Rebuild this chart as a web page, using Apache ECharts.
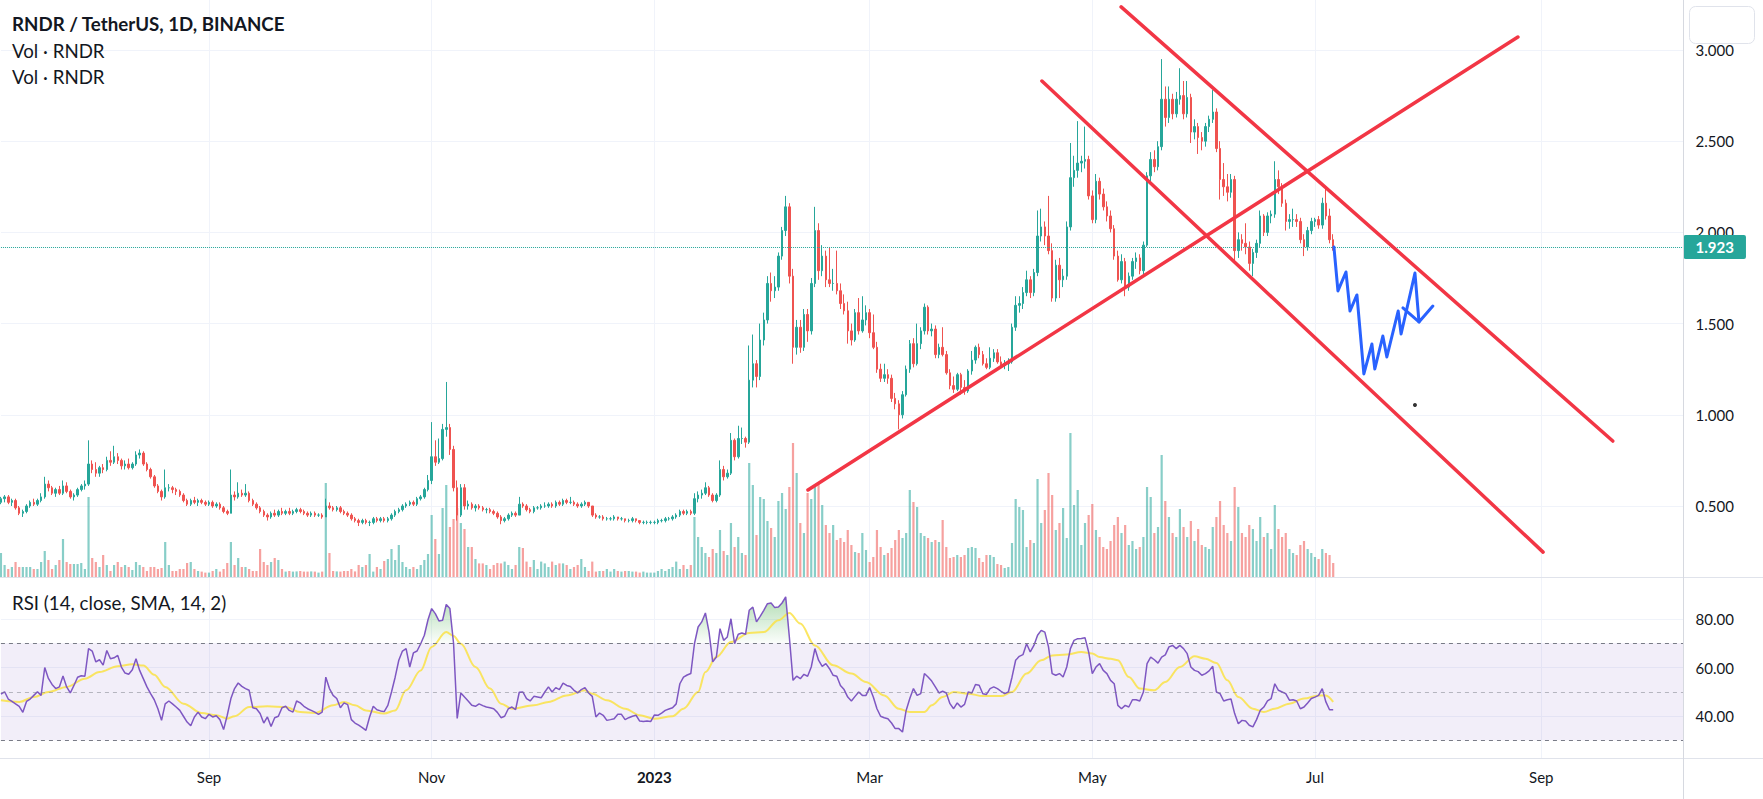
<!DOCTYPE html>
<html><head><meta charset="utf-8">
<script src="https://cdn.jsdelivr.net/npm/echarts@6/dist/echarts.min.js"></script>
<style>html,body{margin:0;padding:0;background:#fff}#c{width:1763px;height:799px}</style>
</head><body><div id="c"></div>
<script>
// ---------------- DATA ----------------
const startDate = '2022-07-06';          // first daily candle
const axisDays = 462;                     // days spanned by the time axis (to Oct 2023)
const lastPrice = 1.923;
const priceTickStep = 0.5;
const rsiTickStep = 20;

// daily candles [open, high, low, close], 2022-07-06 .. 2023-07-06
const candles = [
[0.52,0.55,0.51,0.54],[0.54,0.56,0.52,0.55],[0.55,0.56,0.51,0.52],[0.52,0.54,0.50,0.53],[0.53,0.54,0.48,0.49],
[0.49,0.50,0.45,0.46],[0.46,0.48,0.44,0.47],[0.47,0.51,0.46,0.50],[0.50,0.53,0.49,0.52],[0.52,0.54,0.50,0.51],
[0.51,0.54,0.50,0.53],[0.53,0.57,0.52,0.55],[0.55,0.66,0.54,0.62],[0.62,0.64,0.58,0.60],[0.60,0.61,0.56,0.57],
[0.57,0.60,0.55,0.59],[0.59,0.61,0.56,0.57],[0.57,0.64,0.56,0.61],[0.61,0.63,0.57,0.58],[0.58,0.59,0.54,0.55],
[0.55,0.57,0.53,0.56],[0.56,0.60,0.55,0.59],[0.59,0.62,0.58,0.61],[0.61,0.64,0.59,0.62],[0.62,0.86,0.61,0.73],
[0.73,0.75,0.68,0.70],
[0.70,0.74,0.66,0.68],[0.68,0.72,0.66,0.71],[0.71,0.73,0.68,0.70],[0.70,0.77,0.69,0.75],
[0.75,0.80,0.72,0.74],[0.74,0.83,0.73,0.77],[0.77,0.79,0.73,0.75],[0.75,0.76,0.70,0.72],[0.72,0.75,0.70,0.73],
[0.73,0.76,0.70,0.71],[0.71,0.74,0.70,0.73],[0.73,0.80,0.72,0.78],[0.78,0.81,0.76,0.79],[0.79,0.80,0.72,0.73],
[0.73,0.74,0.69,0.70],[0.70,0.71,0.65,0.66],[0.66,0.67,0.60,0.61],[0.61,0.62,0.57,0.58],[0.58,0.59,0.53,0.55],
[0.55,0.70,0.54,0.60],[0.60,0.62,0.58,0.60],[0.60,0.61,0.57,0.59],[0.59,0.60,0.56,0.58],[0.58,0.59,0.55,0.56],
[0.56,0.57,0.52,0.53],[0.53,0.54,0.50,0.51],[0.51,0.54,0.50,0.53],[0.53,0.55,0.51,0.52],[0.52,0.54,0.50,0.53],
[0.53,0.54,0.51,0.52],[0.52,0.53,0.50,0.51],
[0.51,0.53,0.50,0.52],[0.52,0.53,0.49,0.50],[0.50,0.52,0.49,0.51],[0.51,0.52,0.48,0.49],[0.49,0.50,0.46,0.47],
[0.47,0.48,0.45,0.46],[0.46,0.70,0.46,0.56],[0.56,0.58,0.53,0.55],[0.55,0.63,0.54,0.57],[0.57,0.59,0.55,0.56],
[0.56,0.62,0.55,0.57],[0.57,0.58,0.52,0.53],[0.53,0.54,0.50,0.51],[0.51,0.52,0.48,0.49],[0.49,0.50,0.46,0.47],
[0.47,0.48,0.44,0.45],[0.45,0.46,0.42,0.44],[0.44,0.47,0.43,0.46],[0.46,0.48,0.44,0.45],[0.45,0.48,0.44,0.47],
[0.47,0.49,0.45,0.46],[0.46,0.48,0.45,0.47],[0.47,0.49,0.45,0.46],[0.46,0.48,0.45,0.47],[0.47,0.49,0.46,0.48],
[0.48,0.49,0.46,0.47],[0.47,0.48,0.45,0.46],[0.46,0.47,0.44,0.45],[0.45,0.47,0.44,0.46],[0.46,0.47,0.44,0.45],
[0.45,0.46,0.44,0.45],[0.45,0.46,0.43,0.44],[0.44,0.54,0.44,0.50],[0.50,0.52,0.48,0.49],[0.49,0.50,0.47,0.48],
[0.48,0.50,0.47,0.49],[0.49,0.50,0.46,0.47],[0.47,0.48,0.45,0.46],[0.46,0.47,0.44,0.45],[0.45,0.46,0.42,0.43],
[0.43,0.44,0.41,0.42],[0.42,0.43,0.39,0.41],[0.41,0.43,0.40,0.42],[0.42,0.43,0.40,0.41],[0.41,0.42,0.39,0.41],
[0.41,0.44,0.40,0.43],[0.43,0.44,0.41,0.42],[0.42,0.44,0.41,0.43],[0.43,0.44,0.41,0.42],[0.42,0.44,0.41,0.43],
[0.43,0.46,0.42,0.45],[0.45,0.48,0.44,0.47],[0.47,0.49,0.46,0.48],[0.48,0.51,0.47,0.50],[0.50,0.52,0.49,0.51],
[0.51,0.53,0.50,0.52],[0.52,0.53,0.50,0.51],[0.51,0.55,0.50,0.54],[0.54,0.56,0.53,0.55],[0.55,0.60,0.54,0.59],
[0.59,0.67,0.58,0.64],
[0.64,0.96,0.62,0.77],[0.77,0.86,0.72,0.74],[0.74,0.87,0.73,0.76],[0.76,0.95,0.75,0.92],[0.92,1.18,0.88,0.93],
[0.93,0.95,0.78,0.81],[0.81,0.83,0.58,0.60],[0.60,0.64,0.42,0.45],[0.45,0.62,0.44,0.60],[0.60,0.62,0.48,0.50],
[0.50,0.53,0.48,0.51],[0.51,0.52,0.48,0.49],[0.49,0.51,0.47,0.50],[0.50,0.51,0.48,0.49],[0.49,0.50,0.47,0.48],
[0.48,0.49,0.46,0.48],[0.48,0.49,0.46,0.47],[0.47,0.48,0.45,0.46],[0.46,0.47,0.43,0.44],[0.44,0.45,0.40,0.42],
[0.42,0.44,0.41,0.43],[0.43,0.46,0.42,0.45],[0.45,0.47,0.44,0.46],[0.46,0.47,0.44,0.45],[0.45,0.55,0.45,0.51],
[0.51,0.52,0.49,0.50],[0.50,0.51,0.47,0.48],[0.48,0.49,0.46,0.47],[0.47,0.50,0.46,0.49],[0.49,0.50,0.48,0.49],
[0.49,0.51,0.48,0.50],[0.50,0.52,0.49,0.50],[0.50,0.52,0.49,0.51],[0.51,0.52,0.49,0.50],[0.50,0.53,0.49,0.52],
[0.52,0.53,0.50,0.51],[0.51,0.54,0.50,0.53],[0.53,0.54,0.51,0.52],[0.52,0.55,0.51,0.52],[0.52,0.53,0.50,0.51],
[0.51,0.52,0.49,0.50],[0.50,0.52,0.49,0.51],[0.51,0.53,0.50,0.52],[0.52,0.52,0.49,0.50],[0.50,0.50,0.44,0.45],
[0.45,0.46,0.43,0.44],[0.44,0.45,0.43,0.44],[0.44,0.45,0.42,0.43],[0.43,0.44,0.42,0.43],[0.43,0.44,0.42,0.43],
[0.43,0.45,0.42,0.44],[0.44,0.44,0.42,0.43],[0.43,0.44,0.42,0.43],[0.43,0.43,0.41,0.42],[0.42,0.43,0.41,0.42],
[0.42,0.44,0.41,0.43],[0.43,0.43,0.41,0.42],[0.42,0.42,0.40,0.41],[0.41,0.42,0.40,0.41],[0.41,0.42,0.40,0.41],
[0.41,0.42,0.40,0.41],
[0.41,0.42,0.40,0.41],[0.41,0.43,0.40,0.42],[0.42,0.43,0.41,0.42],[0.42,0.44,0.41,0.43],[0.43,0.44,0.42,0.43],
[0.43,0.45,0.42,0.44],[0.44,0.46,0.43,0.45],[0.45,0.48,0.44,0.47],[0.47,0.48,0.45,0.46],[0.46,0.48,0.45,0.47],
[0.47,0.48,0.45,0.46],[0.46,0.57,0.45,0.54],[0.54,0.58,0.52,0.56],[0.56,0.59,0.54,0.57],[0.57,0.63,0.56,0.60],
[0.60,0.61,0.55,0.56],[0.56,0.57,0.52,0.53],[0.53,0.57,0.52,0.56],[0.56,0.75,0.55,0.70],[0.70,0.72,0.64,0.66],
[0.66,0.70,0.65,0.68],[0.68,0.90,0.67,0.86],[0.86,0.87,0.75,0.77],[0.77,0.94,0.76,0.87],[0.87,0.93,0.84,0.87],
[0.87,0.88,0.82,0.85],[0.85,1.38,0.84,1.19],[1.19,1.44,1.15,1.28],[1.28,1.30,1.15,1.21],[1.21,1.50,1.19,1.41],
[1.41,1.56,1.38,1.52],
[1.52,1.76,1.50,1.72],[1.72,1.78,1.62,1.68],[1.68,1.76,1.64,1.70],[1.70,1.89,1.68,1.87],[1.87,2.03,1.85,2.01],
[2.01,2.20,1.98,2.14],[2.14,2.16,1.72,1.76],[1.76,1.80,1.28,1.37],[1.37,1.52,1.33,1.48],[1.48,1.52,1.34,1.37],
[1.37,1.58,1.35,1.55],[1.55,1.58,1.40,1.46],[1.46,1.75,1.44,1.72],[1.72,2.14,1.70,2.01],[2.01,2.05,1.74,1.79],
[1.79,1.93,1.76,1.87],[1.87,1.90,1.70,1.74],[1.74,1.92,1.70,1.72],[1.72,1.80,1.68,1.72],[1.72,1.90,1.66,1.68],
[1.68,1.72,1.58,1.61],[1.61,1.66,1.55,1.57],[1.57,1.62,1.39,1.46],[1.46,1.50,1.38,1.41],[1.41,1.58,1.40,1.56],
[1.56,1.64,1.44,1.46],[1.46,1.65,1.45,1.52],[1.52,1.60,1.49,1.56],
[1.56,1.58,1.42,1.45],[1.45,1.55,1.36,1.37],[1.37,1.40,1.23,1.25],[1.25,1.28,1.18,1.20],[1.20,1.28,1.18,1.22],
[1.22,1.25,1.17,1.20],[1.20,1.22,1.07,1.09],[1.09,1.12,1.03,1.06],[1.06,1.08,0.92,1.00],[1.00,1.13,0.98,1.11],
[1.11,1.27,1.10,1.25],[1.25,1.41,1.23,1.39],[1.39,1.42,1.26,1.28],[1.28,1.50,1.27,1.39],[1.39,1.48,1.36,1.46],
[1.46,1.61,1.44,1.59],[1.59,1.60,1.44,1.46],[1.46,1.50,1.43,1.47],[1.47,1.49,1.31,1.33],[1.33,1.39,1.31,1.37],
[1.37,1.48,1.32,1.33],[1.33,1.35,1.22,1.23],[1.23,1.25,1.14,1.16],[1.16,1.21,1.12,1.14],[1.14,1.23,1.13,1.22],
[1.22,1.23,1.11,1.15],[1.15,1.19,1.11,1.13],[1.13,1.25,1.12,1.24],[1.24,1.35,1.22,1.30],[1.30,1.38,1.28,1.37],
[1.37,1.39,1.31,1.33],
[1.33,1.35,1.27,1.28],[1.28,1.31,1.25,1.26],[1.26,1.37,1.25,1.31],[1.31,1.36,1.29,1.34],[1.34,1.36,1.28,1.29],
[1.29,1.32,1.26,1.27],[1.27,1.30,1.25,1.28],[1.28,1.31,1.24,1.29],[1.29,1.50,1.28,1.48],[1.48,1.65,1.46,1.60],
[1.60,1.65,1.56,1.61],[1.61,1.70,1.58,1.67],[1.67,1.79,1.65,1.74],[1.74,1.76,1.64,1.67],[1.67,1.80,1.65,1.78],
[1.78,2.12,1.76,1.98],[1.98,2.13,1.95,2.03],[2.03,2.06,1.93,1.98],[1.98,2.20,1.88,1.90],[1.90,1.94,1.62,1.64],
[1.64,1.85,1.62,1.82],[1.82,1.86,1.64,1.74],[1.74,1.80,1.70,1.76],[1.76,2.06,1.74,2.03],[2.03,2.49,2.01,2.30],
[2.30,2.42,2.25,2.34],[2.34,2.61,2.30,2.38],[2.38,2.42,2.33,2.39],[2.39,2.58,2.35,2.40],[2.40,2.42,2.18,2.20],
[2.20,2.23,2.05,2.07],[2.07,2.32,2.05,2.28],[2.28,2.30,2.18,2.21],[2.21,2.24,2.12,2.14],[2.14,2.17,2.06,2.09],
[2.09,2.12,2.00,2.02],[2.02,2.04,1.85,1.87],[1.87,1.90,1.73,1.74],[1.74,1.88,1.72,1.84],[1.84,1.86,1.65,1.70],
[1.70,1.78,1.68,1.76],[1.76,1.86,1.74,1.84],[1.84,1.89,1.80,1.86],[1.86,1.88,1.77,1.79],[1.79,1.95,1.77,1.93],
[1.93,2.33,1.92,2.31],[2.31,2.44,2.28,2.40],[2.40,2.45,2.33,2.36],[2.36,2.50,2.34,2.47],[2.47,2.95,2.45,2.73],
[2.73,2.80,2.58,2.63],[2.63,2.80,2.60,2.73],[2.73,2.76,2.62,2.65],[2.65,2.77,2.63,2.73],[2.73,2.90,2.70,2.75],
[2.75,2.83,2.62,2.65],[2.65,2.83,2.63,2.74],[2.74,2.76,2.49,2.55],[2.55,2.62,2.51,2.58],[2.58,2.60,2.43,2.52],
[2.52,2.55,2.45,2.50],
[2.50,2.60,2.47,2.58],[2.58,2.64,2.55,2.62],[2.62,2.78,2.60,2.66],[2.66,2.68,2.44,2.46],[2.46,2.50,2.18,2.29],
[2.29,2.38,2.20,2.25],[2.25,2.32,2.17,2.22],[2.22,2.32,2.19,2.29],[2.29,2.31,1.84,1.90],[1.90,2.00,1.86,1.96],
[1.96,1.99,1.90,1.94],[1.94,2.05,1.88,1.92],[1.92,1.95,1.79,1.83],[1.83,1.91,1.76,1.89],[1.89,1.96,1.86,1.94],
[1.94,2.12,1.92,2.09],[2.09,2.10,1.98,2.00],[2.00,2.11,1.98,2.09],[2.09,2.12,2.05,2.10],[2.10,2.39,2.08,2.29],
[2.29,2.34,2.21,2.25],[2.25,2.27,2.14,2.16],[2.16,2.18,2.01,2.06],[2.06,2.10,2.02,2.07],[2.07,2.13,2.03,2.07],
[2.07,2.10,2.03,2.06],[2.06,2.08,1.94,1.96],[1.96,1.99,1.87,1.92],[1.92,2.03,1.90,2.01],[2.01,2.08,1.99,2.06],
[2.06,2.08,2.03,2.07],[2.07,2.09,2.02,2.04],[2.04,2.19,2.02,2.16],[2.16,2.25,2.07,2.09],[2.09,2.13,1.94,1.96],
[1.96,1.99,1.90,1.923]
];

// daily volume (relative units)
const volumes = [
12,6,4,5,7.5,5,5,5,5,4, 4,7.5,13,8.5,4,6,8.5,19,7.5,6.5, 6.5,6.5,7,4,40,9.5,7.5,5,11,6,
3,6,7.5,5,6,5,3.5,7.5,6,5, 3,5,5,4,4.5,17.5,6,3,3,4, 4,7,7.5,4,3,2.7,2.2,2.2,3,4,
2.7,4,7,17.5,6,9.5,5,5,4,3, 3,14,7.5,6,7.5,9.5,8.5,4,2.7,3, 2.7,2.8,3,2.7,2.7,2.8,2.7,2.2,2.7,47,
12,3,2.8,2.7,3,3,4,2.8,6,5, 6,11.5,2.7,5,4,8,9,14,8.5,16, 7.5,5,4,5,4,6,8.5,11.5,31,19,
11.5,34.5,46,25,29,34.5,27,24,15,15, 9,6.8,6.8,6,4,6,7,6.8,7.7,6, 4,6,15,14.5,7.7,5,8.5,4,7.7,6.8,
5,7.7,6,6.8,6.8,6,4,5,6,9, 5,3,7.7,2.7,3,3,4,2.7,4,3, 2.7,3,3,2.7,2.7,2.2,2.7,2.2,2.2,2.2,
3,4,3,4,5,7.7,4,6,4,6, 30,20,15,12,10,14,12,23.5,13,11, 27,15,20,12,11,57,46,21,40,39,
28,24.5,20,38,42,34,45,67,52,27, 22,42,39,45,47,36,26,22,26,18.5, 19.5,17.5,23.5,16,12.5,12,22,13.5,7.5,10,
23.5,15,11,12,14.5,18.5,23.5,19.5,22,43.5, 37.5,35,22,20.5,19.5,17.5,18.5,17.5,28.5,15, 9.5,10,11,10,11,14.5,15,14.5,9.5,7.5,
11,11,10,6.5,6,4.5,5,17,39,35, 33.5,15,18.5,17,49,27,33.5,52,41,23.5, 27,34.5,19.5,72,36,43.5,16,27,31,36.5,
23.5,20,15,14,18,26,30,22,26,16, 18,14,15,20,45,40,22,25,61,38, 30,22,20,34,25,20,28,18,24,16,
15,14,25,30,38,26,22,18,45,35, 22,20,26,24,18,30,20,22,14,36, 24,20,22,14,12,11,16,18,14,12,
10,9,14,12,11,7
];

// RSI(14) per candle
const rsi = [
49,50,47,46,45,44,41.5,46,47,48.5, 50,48.5,60,55.5,53,51.3,52,56.5,52,49.5,
52.6,56,56.6,56.4,67.8,66.8,62.3,63.2,61,67, 63.6,64,65,60.2,57.7,57.2,59.1,63.6,58.8,55.4,
52,49.2,46.7,43,38.2,45,46.2,45,43.7,42.3, 39.9,37.5,36,39.6,41.6,39.6,38.9,40.7,39.6,40.1,
38.5,34.4,40.3,47.2,51.3,53.6,52.2,51.3,50.6,43.4, 43,41,37.1,39.6,35.7,39.3,39.9,43.4,44,42.3,
41.6,46.2,45.4,44,43,42.3,41.6,40.7,41.6,56, 51.3,48.5,47.2,43.4,45.4,44.7,38.5,37.1,36.2,35.2,
34.1,39.6,44,42.6,42.1,41.8,44.4,49.9,56,63, 66.8,67.8,60.2,66,66.8,69.8,73.3,79.7,84.3,82.2,
79.2,79.5,86,84.3,70,39,49.5,47.8,46.2,44.4, 44,45,44.3,43.7,43.4,43,41.5,39.3,39.9,43,
43.7,42.6,49.8,49.9,47.2,46.2,48.1,47.8,47.5,49.9, 52,49.9,51.7,50.9,53.6,52.6,52.2,50.6,49.5,50.9,
51.7,49.5,48.1,39.6,41.2,40.3,38.2,38.5,38.9,40.7, 40.7,38.5,39.3,39.9,40.3,37.9,37.7,37.9,37.7,40.4,
40.3,41.2,42.3,42.9,43.4,45,53.3,56,56.9,57.5, 69.8,76.7,78.8,82.5,74.6,62.3,64.3,76,71.2,72.6,
80.1,69.8,73.7,74.2,73.7,83.6,84.9,78.8,81.1,83.6, 86.3,86.6,84.7,84.9,86.6,89.1,72.6,54.7,56.4,55.4,
57.2,56.4,60.2,67.8,63,60.5,61.6,59.5,56.8,56.4, 52.6,50.9,47.8,46.2,48.1,49.9,48.5,48.5,51.7,47.8,
43,39.9,39.3,38.9,37.1,34.8,34.8,33.4,42.3,47.2, 51.3,48.5,49.2,57.5,56.1,54.4,52,49.5,50.2,49.5,
45.1,43,45.4,43.7,44.8,49.9,49.5,53,52.7,49.2, 48.9,51.3,52,51.3,50.2,49.2,49.9,56,63,64.6,
65.3,69.8,66.4,69.1,73.3,75.3,74.6,68.5,57.5,56.8, 57.5,56.1,60.2,67.8,71.2,71.9,72,72.3,66.4,57.5,
60.2,61.6,58.8,57.5,54.7,53.3,44.4,43,44.4,43.7, 46.7,46.7,46.2,49.9,61.6,64.3,63.2,61.8,64.3,65.2,
68.5,69.1,67.8,69.1,67.8,65.7,60.2,58.8,58.3,56.8, 57.5,58.6,60.5,49.9,49.2,46.2,46.7,47,41,36.8,
38.2,37.9,36.2,35.5,38.5,42.3,43.7,46.2,47.2,53.3, 50.6,49.9,49.2,46.5,46.7,46.2,43,43.7,45.4,47.2,
47.8,48.5,51.3,45.8,42.6,42.6
];

// RSI-based SMA: [day index, value]
const rsiMa = [
[0,46.5],[5,45.8],[9,47.8],[13,49.9],[18,52],[23,55.4],[27,58.1],[32,60.5],[36,61.3],[39,60.8],[42,57],[45,52],
[50,45.1],[55,41.2],[59,40.3],[62,38.9],[64,39.9],[68,43.7],[73,44],[78,43.7],[82,41.6],[86,41.2],[91,44.4],
[94,45.8],[97,44.4],[100,42.3],[105,41],[108,42.3],[111,50.6],[115,58.8],[118,68.5],[122,74.6],[124,73],
[126,69.8],[130,60.2],[134,51.3],[137,45.1],[140,43],[146,44.4],[150,45.8],[155,48.5],[160,50.6],[162,49.2],
[166,46.5],[171,43],[175,40.3],[179,38.9],[184,39.9],[187,43],[191,49.9],[193,58.1],[196,64.3],[200,70.5],
[205,74.2],[209,74.6],[213,79.5],[216,82.5],[219,78.1],[223,69.1],[228,60.9],[233,57.5],[237,54],[242,48.5],
[246,43],[249,41.6],[253,41.6],[255,44.4],[258,47.8],[261,49.9],[265,49.2],[269,48.2],[274,48.2],[277,49.9],
[281,57.5],[285,63],[288,65],[292,65.4],[296,66.4],[299,65.8],[301,64.3],[304,63.6],[306,63],[309,56.1],
[312,51.3],[316,50.6],[319,54],[323,60.2],[327,64.6],[330,63.6],[333,61.9],[336,54.7],[339,47.8],[343,43],
[346,41.6],[349,43],[353,45.1],[357,47.2],[361,48.5],[363,48.5],[365,45.8]
];

// hand-drawn lines: [day index, price]
const supportLine   = [[221.1,0.588],[415.6,3.071]];
const channelLower  = [[285.2,2.830],[422.5,0.247]];
const channelUpper  = [[306.9,3.236],[441.6,0.856]];
const projection    = [[365.2,1.920],[366.3,1.679],[368.5,1.783],[369.6,1.569],[371.5,1.657],[373.4,1.224],
                       [375.6,1.388],[376.4,1.251],[378.6,1.432],[379.7,1.317],[382.8,1.569],[383.6,1.443],
                       [387.4,1.777],[388.5,1.509],[392.3,1.596]];
const projectionHook = [[384.1,1.586],[388.5,1.509]];
const dotMarker     = [[387.4,1.054]];

const monthNames = ['Jan','Feb','Mar','Apr','May','Jun','Jul','Aug','Sep','Oct','Nov','Dec'];

// ---------------- CHART ----------------
const FONT = 'Lato, "Noto Sans", sans-serif';
const TXT = '#131722';
const UP = '#26A69A', DOWN = '#EF5350';
const VUP = 'rgba(38,166,154,0.55)', VDOWN = 'rgba(239,83,80,0.55)';
const GL = 0.95, GW = 1682.65;

const cats = [];
const t0 = Date.parse(startDate + 'T00:00:00Z');
for (let k = 0; k < axisDays; k++) cats.push(new Date(t0 + k * 86400000).toISOString().slice(0, 10));
const isLabelDay = (idx, val) => val.slice(8) === '01' && (+val.slice(5, 7)) % 2 === 1;
const labelText = val => { const m = +val.slice(5, 7); return m === 1 ? '{y|' + val.slice(0, 4) + '}' : monthNames[m - 1]; };

const kData = candles.map(c => [c[0], c[3], c[2], c[1]]);
const volData = volumes.map((v, i) => ({ value: v, itemStyle: { color: candles[i][3] >= candles[i][0] ? VUP : VDOWN } }));

const hidCat = (g) => ({ type: 'category', gridIndex: g, data: cats, boundaryGap: false, show: false });
const frameCat = (g, labels) => ({
  type: 'category', gridIndex: g, data: cats, boundaryGap: false,
  axisLine: { show: false }, axisTick: { show: false },
  axisLabel: labels ? { show: true, interval: isLabelDay, formatter: labelText, color: TXT, fontSize: 15,
    fontFamily: FONT, margin: 11, rich: { y: { fontWeight: 'bold', fontSize: 15, color: TXT, fontFamily: FONT } } }
    : { show: false },
  splitLine: { show: true, interval: isLabelDay, lineStyle: { color: '#F0F3FA', width: 1 } }
});
const lineSer = (data, color, width, z) => ({
  type: 'line', xAxisIndex: 1, yAxisIndex: 0, data, symbol: 'none', silent: true, z: z || 6,
  lineStyle: { color, width, cap: 'round', join: 'round' }
});

const titleStyle = (w) => ({ fontSize: 18.7, fontWeight: w, color: TXT, fontFamily: FONT });

const option = {
  animation: false,
  backgroundColor: '#ffffff',
  textStyle: { fontFamily: FONT },
  title: [
    { text: 'RNDR / TetherUS, 1D, BINANCE', left: 12, top: 14, padding: 0, textStyle: titleStyle('bold') },
    { text: 'Vol · RNDR', left: 12, top: 41, padding: 0, textStyle: titleStyle('normal') },
    { text: 'Vol · RNDR', left: 12, top: 67, padding: 0, textStyle: titleStyle('normal') },
    { text: 'RSI (14, close, SMA, 14, 2)', left: 12, top: 593, padding: 0, textStyle: titleStyle('normal') }
  ],
  grid: [
    { left: GL, width: GW, top: 0, height: 597.2 },   // 0 price
    { left: GL, width: GW, top: 377, height: 200 },   // 1 volume
    { left: GL, width: GW, top: 0, height: 577 },     // 2 main frame
    { left: GL, width: GW, top: 577, height: 187.5 }, // 3 RSI
    { left: GL, width: GW, top: 577, height: 181 },   // 4 RSI frame + date labels
    { left: GL, width: GW, top: 577, height: 66.25 }  // 5 overbought fill
  ],
  xAxis: [
    hidCat(0),
    { type: 'value', gridIndex: 0, min: 0, max: axisDays - 1, show: false },
    hidCat(1),
    frameCat(2, false),
    hidCat(3),
    { type: 'value', gridIndex: 3, min: 0, max: axisDays - 1, show: false },
    frameCat(4, true),
    hidCat(5)
  ],
  yAxis: [
    { type: 'value', gridIndex: 0, position: 'right', min: 0, max: 3.274, interval: priceTickStep,
      axisLine: { show: false }, axisTick: { show: false },
      axisLabel: { color: TXT, fontSize: 15, fontFamily: FONT, margin: 12,
        formatter: v => (v >= 0.49 && v <= 3.01) ? v.toFixed(3) : '' },
      splitLine: { show: true, showMinLine: false, showMaxLine: false, lineStyle: { color: '#F0F3FA' } } },
    { type: 'value', gridIndex: 1, min: 0, max: 100, show: false },
    { type: 'value', gridIndex: 2, show: false },
    { type: 'value', gridIndex: 3, position: 'right', min: 20, max: 97.32, interval: rsiTickStep,
      axisLine: { show: false }, axisTick: { show: false },
      axisLabel: { color: TXT, fontSize: 15, fontFamily: FONT, margin: 12,
        formatter: v => (v >= 39 && v <= 81) ? v.toFixed(2) : '' },
      splitLine: { show: true, showMinLine: false, showMaxLine: false, lineStyle: { color: '#F0F3FA' } } },
    { type: 'value', gridIndex: 4, show: false },
    { type: 'value', gridIndex: 5, min: 70, max: 97.32, show: false }
  ],
  series: [
    { type: 'bar', xAxisIndex: 2, yAxisIndex: 1, data: volData, barWidth: 2.2, z: 1, silent: true },
    { type: 'candlestick', xAxisIndex: 0, yAxisIndex: 0, data: kData, barWidth: 2, z: 3, silent: true,
      itemStyle: { color: UP, color0: DOWN, borderColor: UP, borderColor0: DOWN, borderWidth: 1 },
      markLine: { silent: true, symbol: ['none', 'none'], animation: false,
        lineStyle: { color: UP, type: 'dotted', width: 1 },
        label: { show: true, position: 'end', distance: 0, formatter: () => lastPrice.toFixed(3),
          color: '#fff', backgroundColor: UP, fontSize: 15, fontFamily: FONT, fontWeight: 'bold',
          padding: [5, 12, 4, 12], borderRadius: 2 },
        data: [{ yAxis: lastPrice }] } },
    lineSer(supportLine, '#F23645', 3.5),
    lineSer(channelLower, '#F23645', 3.5),
    lineSer(channelUpper, '#F23645', 3.5),
    lineSer(projection, '#2962FF', 3, 7),
    lineSer(projectionHook, '#2962FF', 3, 7),
    { type: 'scatter', xAxisIndex: 1, yAxisIndex: 0, data: dotMarker, symbolSize: 4, itemStyle: { color: '#000' }, silent: true, z: 7 },
    { type: 'line', xAxisIndex: 7, yAxisIndex: 5, data: rsi, symbol: 'none', silent: true, z: 2,
      lineStyle: { width: 0, opacity: 0 },
      areaStyle: { color: new echarts.graphic.LinearGradient(0, 570, 0, 643.25, [
        { offset: 0, color: 'rgba(76,175,80,0.95)' }, { offset: 1, color: 'rgba(76,175,80,0.03)' }], true) } },
    { type: 'line', xAxisIndex: 4, yAxisIndex: 3, data: rsi, symbol: 'none', silent: true, z: 4,
      lineStyle: { color: '#7E57C2', width: 1.5 },
      markArea: { silent: true, itemStyle: { color: 'rgba(126,87,194,0.1)' }, data: [[{ yAxis: 30 }, { yAxis: 70 }]] },
      markLine: { silent: true, symbol: ['none', 'none'], label: { show: false },
        lineStyle: { type: [4, 4], width: 1, color: '#787B86' },
        data: [{ yAxis: 70 }, { yAxis: 50, lineStyle: { color: 'rgba(120,123,134,0.5)', type: [4, 4] } }, { yAxis: 30 }] } },
    { type: 'line', xAxisIndex: 5, yAxisIndex: 3, data: rsiMa, symbol: 'none', silent: true, z: 3,
      smooth: 0.35, smoothMonotone: 'x', lineStyle: { color: 'rgba(250,226,70,0.85)', width: 2 } }
  ],
  graphic: [
    { type: 'line', silent: true, z: 50, shape: { x1: 0, y1: 577.5, x2: 1763, y2: 577.5 }, style: { stroke: '#E0E3EB', lineWidth: 1 } },
    { type: 'line', silent: true, z: 50, shape: { x1: 0, y1: 758.5, x2: 1763, y2: 758.5 }, style: { stroke: '#E0E3EB', lineWidth: 1 } },
    { type: 'line', silent: true, z: 50, shape: { x1: 1683.5, y1: 0, x2: 1683.5, y2: 799 }, style: { stroke: '#D6D9E0', lineWidth: 1 } },
    { type: 'rect', silent: true, z: 60, shape: { x: 1689.5, y: 6.5, width: 65, height: 37, r: 6 }, style: { fill: '#fff', stroke: '#E0E3EB', lineWidth: 1 } }
  ]
};

const chart = echarts.init(document.getElementById('c'), null, { renderer: 'svg', width: 1763, height: 799 });
chart.setOption(option);
</script>
</body></html>
